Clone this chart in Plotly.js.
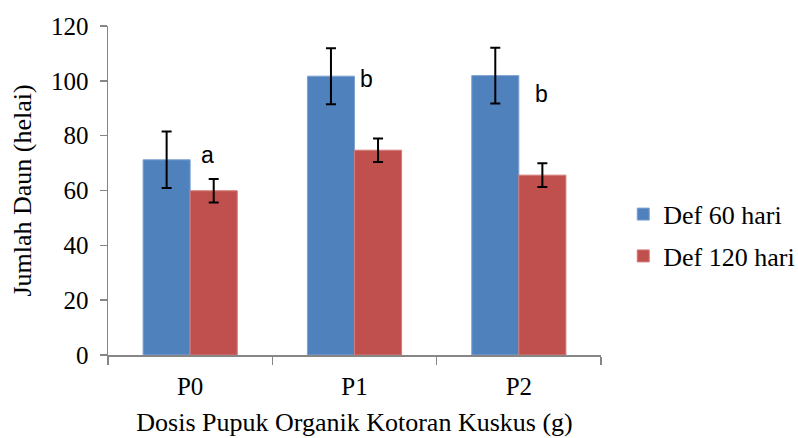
<!DOCTYPE html>
<html>
<head>
<meta charset="utf-8">
<script src="https://cdn.plot.ly/plotly-3.0.1.min.js"></script>
<style>html,body{margin:0;padding:0;background:#fff;} #chart{width:798px;height:438px;}</style>
</head>
<body>
<div id="chart"></div>
<script>
const categories = ["P0", "P1", "P2"];
const def60 = [71.2, 101.7, 101.9];
const def120 = [59.9, 74.7, 65.6];
const err60 = [10.3, 10.2, 10.2];
const err120 = [4.3, 4.3, 4.3];
const seriesNames = ["Def 60 hari", "Def 120 hari"];
const letters = ["a", "b", "b"];
const letterY = [73, 100.7, 95.2];
const yTicks = [0, 20, 40, 60, 80, 100, 120];

const serif = "Liberation Serif";
const letterShift = [17, 12, 23];

const traces = [
  {
    type: "bar", x: categories, y: def60, name: seriesNames[0], legendgroup: "g1",
    marker: {color: "#4F81BD", line: {color: "#7FA3D0", width: 1}},
    error_y: {type: "data", array: err60, visible: true, color: "#000", thickness: 2, width: 5}
  },
  {
    type: "bar", x: categories, y: def120, name: seriesNames[1], legendgroup: "g2",
    marker: {color: "#C0504D", line: {color: "#D47C79", width: 1}},
    error_y: {type: "data", array: err120, visible: true, color: "#000", thickness: 2, width: 5}
  }
];

const annotations = categories.map((c, i) => ({
  x: c, y: letterY[i], xref: "x", yref: "y", text: letters[i], showarrow: false,
  xshift: letterShift[i], font: {family: "Liberation Sans", size: 23, color: "#000"}
}));

const layout = {
  width: 798, height: 438,
  margin: {l: 108, r: 197, t: 26, b: 83},
  paper_bgcolor: "#fff", plot_bgcolor: "#fff",
  barmode: "group", bargap: 0.427, bargroupgap: 0,
  font: {family: serif, color: "#000"},
  xaxis: {
    type: "category",
    showline: true, linecolor: "#868686", linewidth: 1.5,
    ticks: "outside", tickson: "boundaries", ticklen: 8, tickcolor: "#868686", tickwidth: 1.5,
    tickfont: {family: serif, size: 25, color: "#000"},
    ticklabelstandoff: 8,
    showgrid: false, zeroline: false,
    title: {text: "Dosis Pupuk Organik Kotoran Kuskus (g)", font: {family: serif, size: 26, color: "#000"}, standoff: 14}
  },
  yaxis: {
    range: [0, 120], tickvals: yTicks, ticktext: yTicks.map(String),
    showline: true, linecolor: "#868686", linewidth: 1.5,
    ticks: "outside", ticklen: 7, tickcolor: "#868686", tickwidth: 1.5,
    tickfont: {family: serif, size: 25, color: "#000"},
    ticklabelstandoff: 6,
    showgrid: false, zeroline: false,
    title: {text: "Jumlah Daun (helai)", font: {family: serif, size: 26, color: "#000"}, standoff: 12}
  },
  showlegend: true,
  legend: {
    xref: "container", yref: "container",
    x: 0.781, xanchor: "left", y: 0.463, yanchor: "middle",
    font: {family: serif, size: 26, color: "#000"},
    tracegroupgap: 5, bgcolor: "rgba(0,0,0,0)"
  },
  annotations: annotations
};

Plotly.newPlot("chart", traces, layout, {displayModeBar: false, staticPlot: true});
</script>
</body>
</html>
